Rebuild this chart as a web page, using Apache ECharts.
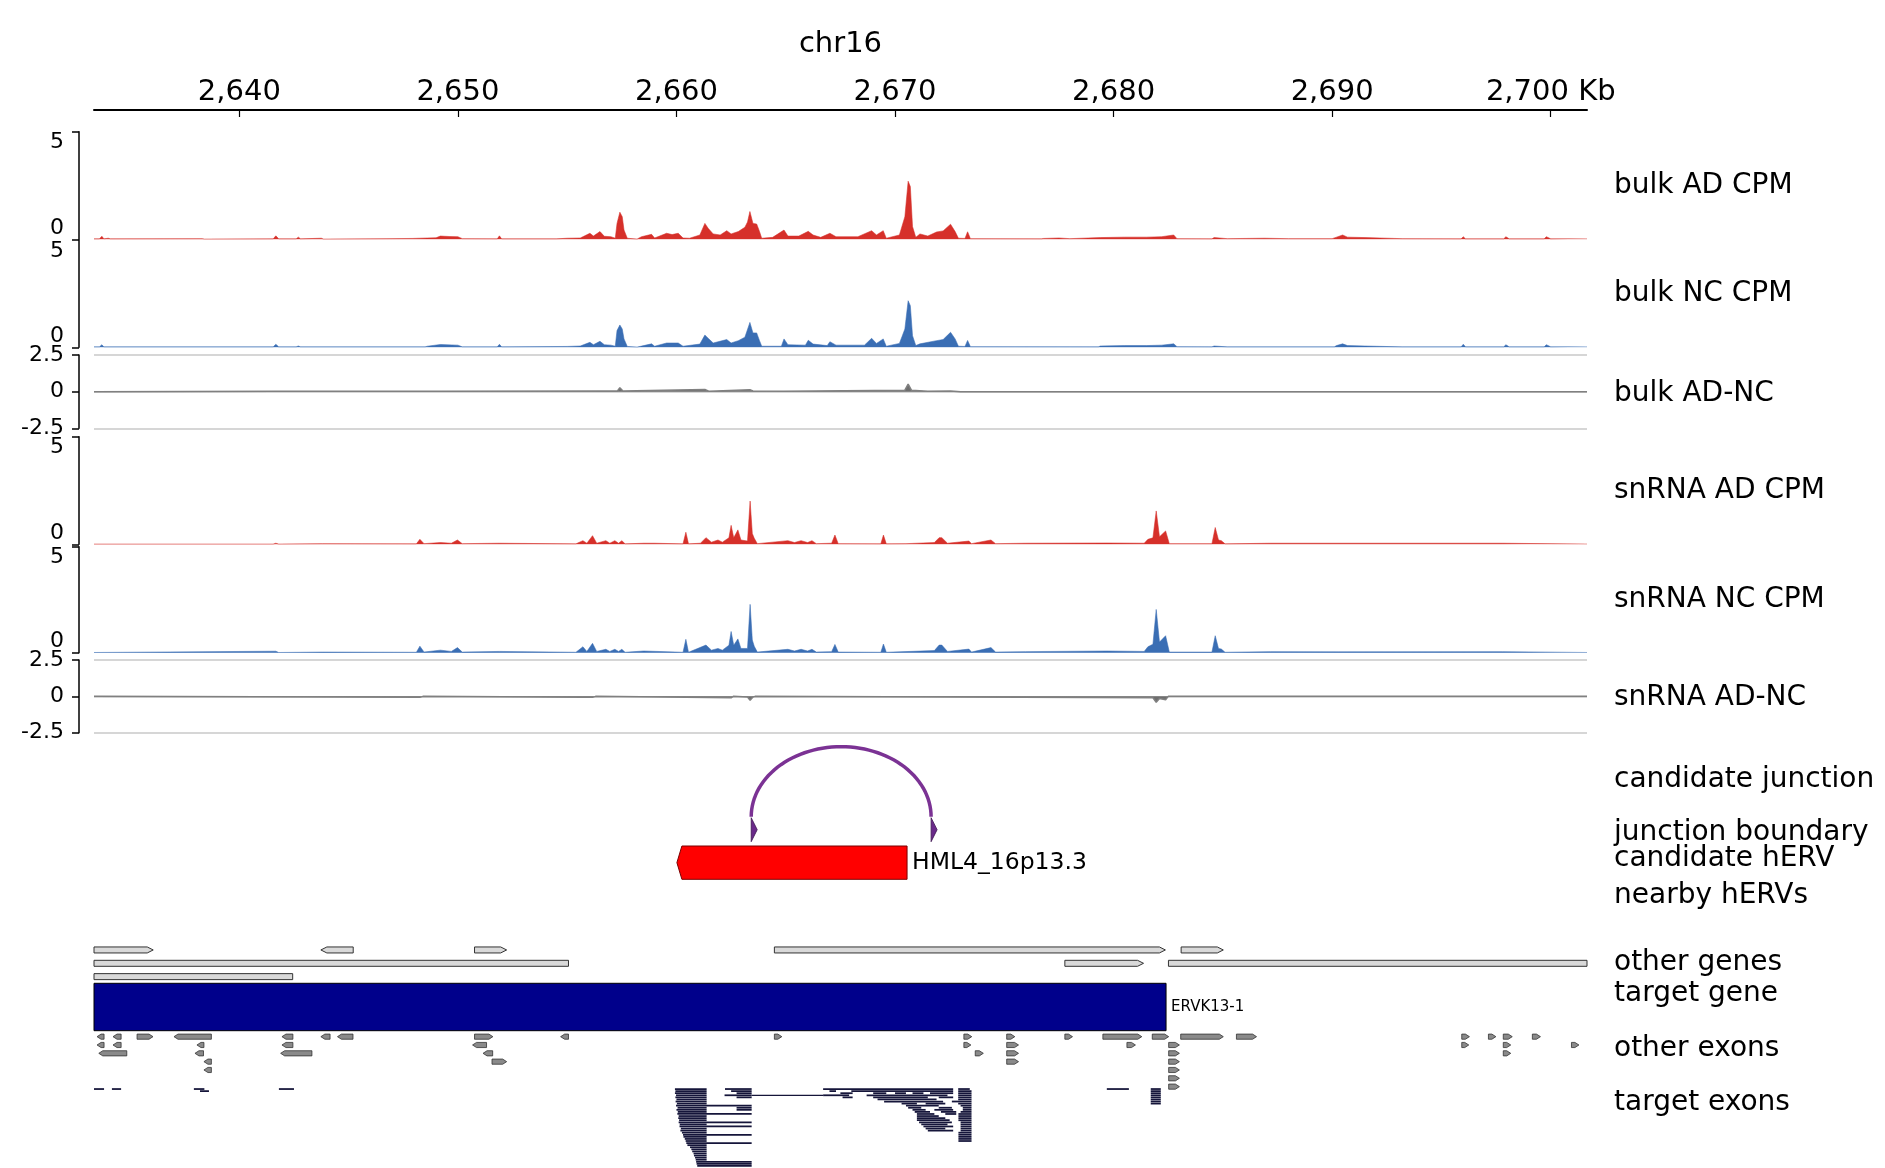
<!DOCTYPE html>
<html><head><meta charset="utf-8">
<script src="https://cdn.jsdelivr.net/npm/echarts@6/dist/echarts.min.js"></script>
<style>html,body{margin:0;padding:0;background:#fff}#c{width:1885px;height:1168px}</style>
</head><body><div id="c"></div>
<script>
// ---- view range (kb) ----
const XMIN = 2633.35, XMAX = 2701.66;
const tickValues = [2640, 2650, 2660, 2670, 2680, 2690, 2700];
const trackLabels = ['bulk AD CPM','bulk NC CPM','bulk AD-NC','snRNA AD CPM','snRNA NC CPM','snRNA AD-NC',
  'candidate junction','junction boundary','candidate hERV','nearby hERVs','other genes','target gene','other exons','target exons'];

// ---- coverage tracks [kb, value] ----
const bulkAD = [[2633.35,0.02],[2633.6,0.02],[2633.71,0.14],[2633.8,0.02],[2634.0,0.05],[2634.1,0.02],[2638.3,0.03],[2638.4,0.01],[2641.55,0.02],[2641.67,0.16],[2641.8,0.02],[2642.6,0.02],[2642.7,0.1],[2642.8,0.02],[2643.75,0.05],[2643.85,0.01],[2646.8,0.03],[2647.9,0.04],[2648.6,0.06],[2649.0,0.07],[2649.2,0.15],[2649.6,0.13],[2650.0,0.12],[2650.2,0.03],[2651.8,0.02],[2651.9,0.16],[2652.0,0.02],[2654.5,0.02],[2655.0,0.05],[2655.6,0.06],[2656.04,0.28],[2656.2,0.15],[2656.5,0.36],[2656.7,0.14],[2657.0,0.12],[2657.2,0.05],[2657.28,0.74],[2657.41,1.26],[2657.52,1.05],[2657.6,0.43],[2657.75,0.05],[2658.2,0.01],[2658.4,0.12],[2658.86,0.23],[2659.0,0.06],[2659.55,0.28],[2659.8,0.22],[2660.08,0.28],[2660.3,0.06],[2660.6,0.05],[2661.07,0.2],[2661.3,0.74],[2661.45,0.51],[2661.68,0.25],[2662.0,0.2],[2662.3,0.4],[2662.5,0.25],[2662.83,0.36],[2663.13,0.56],[2663.25,0.8],[2663.36,1.29],[2663.5,0.74],[2663.67,0.71],[2663.8,0.36],[2663.9,0.05],[2664.4,0.09],[2664.92,0.43],[2665.1,0.15],[2665.6,0.15],[2666.03,0.37],[2666.25,0.2],[2666.6,0.09],[2667.02,0.28],[2667.3,0.12],[2668.3,0.12],[2668.93,0.4],[2669.15,0.2],[2669.46,0.4],[2669.6,0.05],[2670.2,0.2],[2670.45,1.05],[2670.6,2.7],[2670.7,2.45],[2670.8,0.59],[2670.95,0.09],[2671.14,0.25],[2671.5,0.15],[2671.9,0.34],[2672.2,0.39],[2672.54,0.7],[2672.75,0.36],[2672.9,0.05],[2673.2,0.04],[2673.32,0.35],[2673.45,0.03],[2676.7,0.02],[2676.8,0.04],[2677.5,0.06],[2678.0,0.03],[2679.4,0.08],[2680.5,0.1],[2681.5,0.1],[2682.2,0.12],[2682.75,0.2],[2682.9,0.03],[2684.5,0.02],[2684.6,0.08],[2685.2,0.03],[2686.9,0.05],[2688.0,0.03],[2690.0,0.03],[2690.2,0.1],[2690.48,0.2],[2690.7,0.1],[2691.5,0.08],[2693.2,0.03],[2695.9,0.02],[2696.0,0.12],[2696.1,0.02],[2697.85,0.02],[2697.95,0.12],[2698.1,0.02],[2699.7,0.02],[2699.8,0.12],[2700.0,0.02],[2701.66,0.02]];
const bulkNC = [[2633.35,0.02],[2633.6,0.02],[2633.71,0.12],[2633.8,0.02],[2641.55,0.02],[2641.67,0.14],[2641.8,0.02],[2642.6,0.02],[2642.7,0.06],[2642.8,0.02],[2648.5,0.02],[2648.6,0.05],[2649.2,0.13],[2650.0,0.1],[2650.2,0.02],[2651.8,0.02],[2651.9,0.14],[2652.0,0.02],[2655.0,0.04],[2655.6,0.06],[2656.04,0.23],[2656.2,0.12],[2656.5,0.28],[2656.7,0.12],[2657.0,0.1],[2657.2,0.05],[2657.28,0.78],[2657.41,1.04],[2657.52,0.85],[2657.6,0.39],[2657.75,0.04],[2658.2,0.01],[2658.86,0.16],[2659.0,0.05],[2659.55,0.2],[2660.08,0.2],[2660.3,0.05],[2661.07,0.15],[2661.3,0.57],[2661.45,0.42],[2661.68,0.2],[2662.3,0.36],[2662.5,0.2],[2662.83,0.31],[2663.13,0.47],[2663.36,1.16],[2663.5,0.67],[2663.67,0.67],[2663.8,0.31],[2663.9,0.05],[2664.8,0.05],[2664.92,0.39],[2665.1,0.12],[2665.9,0.1],[2666.03,0.33],[2666.25,0.15],[2666.9,0.08],[2667.02,0.26],[2667.3,0.1],[2668.6,0.1],[2668.93,0.42],[2669.15,0.18],[2669.46,0.39],[2669.6,0.05],[2670.2,0.18],[2670.45,0.85],[2670.6,2.17],[2670.7,1.94],[2670.8,0.54],[2670.95,0.08],[2671.14,0.16],[2671.9,0.31],[2672.2,0.36],[2672.54,0.7],[2672.75,0.39],[2672.9,0.05],[2673.2,0.04],[2673.32,0.32],[2673.45,0.03],[2679.3,0.02],[2679.4,0.06],[2680.5,0.08],[2681.5,0.08],[2682.2,0.1],[2682.75,0.16],[2682.9,0.03],[2684.5,0.02],[2684.6,0.06],[2685.2,0.02],[2690.1,0.02],[2690.2,0.08],[2690.48,0.16],[2690.7,0.08],[2691.5,0.06],[2693.2,0.02],[2695.9,0.02],[2696.0,0.14],[2696.1,0.02],[2697.85,0.02],[2697.95,0.12],[2698.1,0.02],[2699.7,0.02],[2699.8,0.12],[2700.0,0.02],[2701.66,0.02]];
const bulkDiff = [[2633.35,0],[2641.67,0.02],[2649.2,0.02],[2656.5,0.05],[2657.3,0.05],[2657.41,0.27],[2657.55,0.05],[2661.3,0.15],[2661.5,0.02],[2663.36,0.13],[2663.5,0.05],[2664.92,0.03],[2670.45,0.1],[2670.6,0.52],[2670.75,0.1],[2671.5,0.03],[2672.54,0.04],[2673.0,0],[2701.66,0]];
const snAD = [[2633.35,0.01],[2641.55,0.01],[2641.67,0.05],[2641.8,0.01],[2643.8,0.03],[2648.1,0.02],[2648.26,0.23],[2648.45,0.03],[2649.2,0.08],[2649.7,0.05],[2649.98,0.2],[2650.2,0.03],[2651.9,0.05],[2655.4,0.02],[2655.72,0.17],[2655.9,0.05],[2656.16,0.4],[2656.35,0.05],[2656.77,0.17],[2656.95,0.05],[2657.18,0.17],[2657.35,0.05],[2657.5,0.17],[2657.65,0.02],[2658.5,0.05],[2659.0,0.05],[2660.3,0.02],[2660.43,0.56],[2660.55,0.02],[2661.1,0.05],[2661.35,0.31],[2661.6,0.1],[2661.9,0.2],[2662.1,0.1],[2662.4,0.3],[2662.5,0.88],[2662.62,0.3],[2662.81,0.67],[2662.95,0.2],[2663.25,0.15],[2663.37,2.01],[2663.47,0.5],[2663.56,0.28],[2663.7,0.03],[2665.1,0.17],[2665.4,0.08],[2665.7,0.17],[2666.0,0.08],[2666.2,0.17],[2666.4,0.03],[2667.1,0.05],[2667.25,0.43],[2667.4,0.03],[2669.35,0.02],[2669.47,0.43],[2669.6,0.02],[2670.5,0.03],[2671.8,0.08],[2672.02,0.31],[2672.14,0.31],[2672.4,0.05],[2673.38,0.15],[2673.5,0.03],[2674.39,0.2],[2674.6,0.03],[2675.97,0.05],[2679.7,0.06],[2681.4,0.05],[2681.57,0.23],[2681.8,0.3],[2681.95,1.55],[2682.1,0.35],[2682.38,0.62],[2682.55,0.03],[2684.5,0.03],[2684.65,0.78],[2684.8,0.2],[2684.93,0.17],[2685.1,0.02],[2687.17,0.05],[2697.8,0.05],[2701.66,0.01]];
const snNC = [[2633.35,0.01],[2641.67,0.07],[2641.8,0.01],[2643.8,0.03],[2648.1,0.02],[2648.26,0.31],[2648.45,0.03],[2649.2,0.12],[2649.7,0.06],[2649.98,0.24],[2650.2,0.03],[2651.9,0.06],[2655.4,0.02],[2655.72,0.28],[2655.9,0.06],[2656.16,0.44],[2656.35,0.06],[2656.77,0.16],[2656.95,0.06],[2657.18,0.16],[2657.35,0.06],[2657.5,0.16],[2657.65,0.02],[2658.5,0.08],[2660.3,0.02],[2660.43,0.63],[2660.55,0.02],[2661.35,0.36],[2661.6,0.12],[2661.9,0.2],[2662.1,0.12],[2662.4,0.35],[2662.5,1.0],[2662.62,0.35],[2662.81,0.65],[2662.95,0.2],[2663.25,0.2],[2663.37,2.28],[2663.47,0.6],[2663.56,0.3],[2663.7,0.03],[2665.1,0.16],[2665.4,0.08],[2665.7,0.16],[2666.0,0.08],[2666.2,0.16],[2666.4,0.03],[2667.1,0.05],[2667.25,0.39],[2667.4,0.03],[2669.35,0.02],[2669.47,0.41],[2669.6,0.02],[2671.8,0.1],[2672.02,0.36],[2672.14,0.36],[2672.4,0.06],[2673.38,0.17],[2673.5,0.03],[2674.39,0.24],[2674.6,0.03],[2675.97,0.05],[2679.7,0.08],[2681.4,0.06],[2681.57,0.28],[2681.8,0.4],[2681.95,2.04],[2682.1,0.5],[2682.38,0.8],[2682.55,0.03],[2684.5,0.03],[2684.65,0.8],[2684.8,0.2],[2684.93,0.17],[2685.1,0.02],[2687.17,0.05],[2690.3,0.04],[2697.8,0.05],[2701.66,0.01]];
const snDiff = [[2633.35,0],[2648.26,-0.07],[2648.4,0],[2655.72,-0.07],[2656.16,-0.07],[2656.3,0],[2662.5,-0.1],[2662.6,0],[2663.25,-0.05],[2663.37,-0.27],[2663.5,-0.05],[2663.6,0],[2681.8,-0.1],[2681.95,-0.41],[2682.1,-0.15],[2682.38,-0.23],[2682.5,0],[2701.66,0]];

// ---- annotations: [start kb, end kb, row, strand(1 '+', -1 '-', 0 none)] ----
const junctionLinks = [[2663.42, 2671.65]];
const junctionBoundaries = [[2663.42], [2671.65]];
const candidateHERV = [[2660.02, 2670.55, 0, -1]];
const candidateHERVName = 'HML4_16p13.3';
const otherGenes = [
  [2633.35,2636.06,0,1],[2643.73,2645.21,0,-1],[2650.76,2652.23,0,1],[2664.48,2682.37,0,1],[2683.09,2685.02,0,1],
  [2633.35,2655.06,1,0],[2677.77,2681.37,1,1],[2682.51,2701.66,1,0],
  [2633.35,2642.44,2,0]];
const targetGene = [[2633.35, 2682.40, 0, 0]];
const targetGeneName = 'ERVK13-1';
const otherExons = [
  [2633.49,2633.81,0,-1],[2634.22,2634.59,0,-1],[2635.32,2636.05,0,1],[2637.01,2638.72,0,-1],[2641.95,2642.45,0,-1],[2643.73,2644.15,0,-1],[2644.49,2645.2,0,-1],[2650.76,2651.6,0,1],[2654.7,2655.06,0,-1],[2664.48,2664.82,0,1],[2673.15,2673.51,0,1],[2675.11,2675.48,0,1],[2677.77,2678.12,0,1],[2679.51,2681.29,0,1],[2681.77,2682.52,0,1],[2683.07,2685.02,0,1],[2685.62,2686.54,0,1],[2695.93,2696.28,0,1],[2697.15,2697.49,0,1],[2697.83,2698.24,0,1],[2699.16,2699.53,0,1],
  [2633.49,2633.81,1,-1],[2634.22,2634.59,1,-1],[2638.06,2638.38,1,-1],[2641.95,2642.45,1,-1],[2650.67,2651.31,1,-1],[2673.15,2673.47,1,1],[2675.11,2675.65,1,1],[2680.61,2681.0,1,1],[2682.52,2683.01,1,1],[2695.93,2696.25,1,1],[2697.83,2698.17,1,1],[2700.95,2701.29,1,1],
  [2633.57,2634.85,2,-1],[2637.97,2638.36,2,-1],[2641.89,2643.32,2,-1],[2651.15,2651.59,2,-1],[2673.67,2674.04,2,1],[2675.11,2675.65,2,1],[2682.52,2683.01,2,1],[2697.83,2698.17,2,1],
  [2638.38,2638.72,3,-1],[2651.56,2652.23,3,1],[2675.11,2675.65,3,1],[2682.52,2683.01,3,1],
  [2638.38,2638.72,4,-1],[2682.52,2683.01,4,1],
  [2682.52,2683.01,5,1],
  [2682.52,2683.01,6,1]];
// target exons: [start, end, row]
const targetExons = [
  [2633.35,2633.81,0],[2634.17,2634.59,0],[2637.92,2638.4,0],[2641.81,2642.5,0],[2679.69,2680.7,0],[2681.7,2682.16,0],
  [2638.2,2638.61,1],[2681.7,2682.16,1],[2681.7,2682.16,2],[2681.7,2682.16,3],[2681.7,2682.16,4],[2681.7,2682.16,5],[2681.7,2682.16,6],[2681.7,2682.16,7],
  [2659.93,2661.38,0],[2662.22,2663.44,0],[2666.71,2672.66,0],[2672.89,2673.42,0],
  [2659.95,2661.38,1],[2662.5,2663.44,1],[2667.0,2667.3,1],[2668.0,2672.66,1],[2672.89,2673.5,1],
  [2659.93,2661.38,2],[2662.75,2663.44,2],[2667.5,2668.06,2],[2669.0,2669.6,2],[2670.0,2670.5,2],[2670.8,2671.3,2],[2671.6,2672.66,2],[2672.89,2673.5,2],
  [2659.98,2661.38,3],[2662.2,2663.44,3],[2666.71,2667.9,3],[2668.7,2672.4,3],[2672.89,2673.5,3],
  [2659.95,2661.38,4],[2662.75,2663.44,4],[2667.6,2668.06,4],[2669.0,2671.5,4],[2672.0,2672.66,4],[2672.89,2673.5,4],
  [2660.0,2661.38,5],[2669.2,2671.9,5],[2672.89,2673.5,5],
  [2659.96,2661.38,6],[2669.5,2672.2,6],[2672.6,2673.5,6],
  [2660.02,2661.38,7],[2670.3,2671.0,7],[2671.4,2672.3,7],[2672.89,2673.5,7],
  [2659.98,2663.44,8],[2670.5,2672.0,8],[2673.0,2673.5,8],
  [2660.05,2661.38,9],[2662.75,2663.44,9],[2670.6,2671.2,9],[2672.0,2672.6,9],[2673.1,2673.5,9],
  [2660.0,2661.38,10],[2662.75,2663.44,10],[2670.8,2671.4,10],[2671.8,2672.66,10],[2673.1,2673.5,10],
  [2660.06,2661.38,11],[2670.9,2671.6,11],[2672.1,2672.8,11],[2673.0,2673.5,11],
  [2660.04,2663.44,12],[2671.0,2671.8,12],[2672.3,2672.8,12],[2672.9,2673.5,12],
  [2660.1,2661.38,13],[2671.0,2672.0,13],[2672.9,2673.5,13],
  [2660.08,2661.38,14],[2671.0,2672.3,14],[2672.9,2673.5,14],
  [2660.12,2661.38,15],[2671.0,2672.5,15],[2672.9,2673.5,15],
  [2660.1,2663.44,16],[2671.1,2672.6,16],[2673.0,2673.5,16],
  [2660.15,2661.38,17],[2671.2,2672.4,17],[2673.0,2673.5,17],
  [2660.14,2663.44,18],[2671.3,2672.66,18],[2673.0,2673.5,18],
  [2660.2,2661.38,19],[2671.4,2672.3,19],[2673.0,2673.5,19],
  [2660.18,2661.38,20],[2671.5,2672.66,20],[2673.0,2673.5,20],
  [2660.25,2661.38,21],[2672.9,2673.5,21],
  [2660.3,2663.44,22],[2672.9,2673.5,22],
  [2660.32,2661.38,23],[2672.9,2673.5,23],
  [2660.38,2661.38,24],[2672.9,2673.5,24],
  [2660.42,2661.38,25],[2672.9,2673.5,25],
  [2660.45,2663.44,26],
  [2660.5,2661.38,27],[2660.62,2661.38,28],[2660.68,2661.38,29],[2660.72,2661.38,30],[2660.78,2661.38,31],
  [2660.8,2661.38,32],[2660.85,2661.38,33],[2660.88,2661.38,34],[2660.9,2663.44,35],[2660.92,2663.44,36],[2660.95,2663.44,37]];
const targetIntrons = [[2663.44, 2666.71, 3]];

// ---- layout ----
const GL = 94, GW = 1493;
const grids = [
  {top:131.7,height:107.6},{top:240,height:107.3},{top:355,height:73.3},
  {top:436.7,height:107.6},{top:546.7,height:106},{top:660,height:72.7},
  {top:746.7,height:70},{top:817.7,height:24},{top:846,height:33.3},
  {top:943.3,height:40},{top:983.3,height:47.4},{top:1032.5,height:58.3},{top:1088,height:79}];
const labelY = [185.5,294,394,491,599.5,697.5,779.5,832.5,859,895.5,962.5,994,1049,1102.5];
const FONT = 'DejaVu Sans';
const RED = '#d6302a', BLUE = '#3a6eb4', GRAY = '#6e6e6e';

const xAxes = grids.map((g,i)=>({
  gridIndex:i, type:'value', min:XMIN, max:XMAX, show:i===0,
  position:'top', offset:21.7,
  axisLine:{show:true,onZero:false,lineStyle:{color:'#000',width:2}},
  axisTick:{show:true,inside:true,length:7,lineStyle:{color:'#000',width:1.2},customValues:tickValues},
  axisLabel:{show:true,customValues:tickValues,fontSize:29,fontFamily:FONT,color:'#000',margin:3,
    formatter:v=>v.toLocaleString('en-US')+(v===2700?' Kb':'')},
  splitLine:{show:false},
  name:i===0?'chr16':'', nameLocation:'middle', nameGap:51,
  nameTextStyle:{fontSize:29,fontFamily:FONT,color:'#000'}
}));

function sigY(i,min,max,interval,isDiff){
  return {gridIndex:i,type:'value',min:min,max:max,interval:interval,offset:15,
    axisLine:{show:true,onZero:false,lineStyle:{color:'#000',width:1.5}},
    axisTick:{show:true,length:7,lineStyle:{color:'#000',width:1.5}},
    axisLabel:{fontSize:22,fontFamily:FONT,color:'#000',margin:15,
      verticalAlignMinLabel:isDiff?'middle':'bottom',verticalAlignMaxLabel:isDiff?'middle':'top'},
    splitLine:{show:isDiff,lineStyle:{color:'#c8c8c8',width:1.5}}};
}
const yAxes = [
  sigY(0,0,5,5,false),sigY(1,0,5,5,false),sigY(2,-2.5,2.5,2.5,true),
  sigY(3,0,5,5,false),sigY(4,0,5,5,false),sigY(5,-2.5,2.5,2.5,true),
  {gridIndex:6,type:'value',min:0,max:1,show:false},
  {gridIndex:7,type:'value',min:0,max:1,show:false},
  {gridIndex:8,type:'value',min:-0.5,max:0.5,show:false},
  {gridIndex:9,type:'value',min:-0.5,max:2.5,inverse:true,show:false},
  {gridIndex:10,type:'value',min:-0.5,max:0.5,show:false},
  {gridIndex:11,type:'value',min:-0.5,max:6.5,inverse:true,show:false},
  {gridIndex:12,type:'value',min:-0.5,max:37.5,inverse:true,show:false}];

function areaSeries(i,data,color,isDiff){
  return {type:'line',xAxisIndex:i,yAxisIndex:i,data:data,showSymbol:false,symbol:'none',
    sampling:null,clip:true,
    lineStyle:{color:isDiff?'#808080':color,width:isDiff?1.5:1,opacity:isDiff?1:0.55},
    areaStyle:{color:color,opacity:1,origin:0},z:3};
}

function arrowShape(api,opt){
  const s=api.value(0),e=api.value(1),row=api.value(2),strand=api.value(3);
  const p1=api.coord([s,row]),p2=api.coord([e,row]);
  const rowH=Math.abs(api.size([0,1])[1]);
  const h=rowH*opt.frac, ym=p1[1], yt=ym-h/2, yb=ym+h/2;
  const x1=p1[0],x2=p2[0],a=Math.min(opt.arrow,(x2-x1)*0.6);
  let pts;
  if(strand>0) pts=[[x1,yt],[x2-a,yt],[x2,ym],[x2-a,yb],[x1,yb]];
  else if(strand<0) pts=[[x1,ym],[x1+a,yt],[x2,yt],[x2,yb],[x1+a,yb]];
  else pts=[[x1,yt],[x2,yt],[x2,yb],[x1,yb]];
  return {poly:{type:'polygon',shape:{points:pts},style:{fill:opt.fill,stroke:opt.stroke,lineWidth:opt.lw}},x2:x2,ym:ym};
}

const series = [
  areaSeries(0,bulkAD,RED,false),areaSeries(1,bulkNC,BLUE,false),areaSeries(2,bulkDiff,GRAY,true),
  areaSeries(3,snAD,RED,false),areaSeries(4,snNC,BLUE,false),areaSeries(5,snDiff,GRAY,true),
  {type:'custom',xAxisIndex:6,yAxisIndex:6,data:junctionLinks,encode:{x:[0,1]},
    renderItem:(p,api)=>{
      const a=api.coord([api.value(0),0]),b=api.coord([api.value(1),0]),t=api.coord([api.value(0),1]);
      const cx=(a[0]+b[0])/2,rx=(b[0]-a[0])/2,ry=a[1]-t[1],pts=[];
      for(let k=0;k<=60;k++){const th=Math.PI*k/60;pts.push([cx-rx*Math.cos(th),a[1]-ry*Math.sin(th)]);}
      return {type:'polyline',shape:{points:pts},style:{stroke:'#7b3294',lineWidth:3.5,fill:null}};
    }},
  {type:'custom',xAxisIndex:7,yAxisIndex:7,data:junctionBoundaries,encode:{x:0},
    renderItem:(p,api)=>{
      const b=api.coord([api.value(0),0]),t=api.coord([api.value(0),1]);
      return {type:'polygon',shape:{points:[[b[0],t[1]],[b[0]+6,(t[1]+b[1])/2],[b[0],b[1]]]},
        style:{fill:'#6a2a8a',stroke:'#3d1550',lineWidth:0.8}};
    }},
  {type:'custom',xAxisIndex:8,yAxisIndex:8,data:candidateHERV,encode:{x:[0,1],y:2},
    renderItem:(p,api)=>{
      const r=arrowShape(api,{frac:1,arrow:5,fill:'#ff0000',stroke:'#7a0000',lw:1});
      return {type:'group',children:[r.poly,{type:'text',style:{text:candidateHERVName,x:r.x2+5,y:r.ym,
        verticalAlign:'middle',align:'left',fontSize:23.5,fontFamily:FONT,fill:'#000'}}]};
    }},
  {type:'custom',xAxisIndex:9,yAxisIndex:9,data:otherGenes,encode:{x:[0,1],y:2},
    renderItem:(p,api)=>arrowShape(api,{frac:0.45,arrow:6,fill:'#d9d9d9',stroke:'#333',lw:1}).poly},
  {type:'custom',xAxisIndex:10,yAxisIndex:10,data:targetGene,encode:{x:[0,1],y:2},
    renderItem:(p,api)=>{
      const r=arrowShape(api,{frac:1,arrow:6,fill:'#00008b',stroke:'#000',lw:1});
      return {type:'group',children:[r.poly,{type:'text',style:{text:targetGeneName,x:r.x2+5,y:r.ym,
        verticalAlign:'middle',align:'left',fontSize:15,fontFamily:FONT,fill:'#000'}}]};
    }},
  {type:'custom',xAxisIndex:11,yAxisIndex:11,data:otherExons,encode:{x:[0,1],y:2},
    renderItem:(p,api)=>arrowShape(api,{frac:0.62,arrow:4,fill:'#8a8a8a',stroke:'#333',lw:0.8}).poly},
  {type:'custom',xAxisIndex:12,yAxisIndex:12,data:targetIntrons,encode:{x:[0,1],y:2},
    renderItem:(p,api)=>{
      const a=api.coord([api.value(0),api.value(2)]),b=api.coord([api.value(1),api.value(2)]);
      return {type:'line',shape:{x1:a[0],y1:a[1],x2:b[0],y2:b[1]},style:{stroke:'#15153a',lineWidth:1.2}};
    }},
  {type:'custom',xAxisIndex:12,yAxisIndex:12,data:targetExons,encode:{x:[0,1],y:2},
    renderItem:(p,api)=>{
      const a=api.coord([api.value(0),api.value(2)]),b=api.coord([api.value(1),api.value(2)]);
      const h=Math.abs(api.size([0,1])[1])*0.85;
      return {type:'rect',shape:{x:a[0],y:a[1]-h/2,width:Math.max(b[0]-a[0],1),height:h},style:{fill:'#15153a'}};
    }}
];

const graphic = trackLabels.map((t,i)=>({type:'text',x:1614,y:labelY[i],
  style:{text:t,fontSize:28,fontFamily:FONT,fill:'#000',verticalAlign:'middle',align:'left'}}));

const chart = echarts.init(document.getElementById('c'),null,{renderer:'canvas'});
chart.setOption({
  animation:false, backgroundColor:'#fff',
  textStyle:{fontFamily:FONT},
  grid:grids.map(g=>({left:GL,width:GW,top:g.top,height:g.height,containLabel:false,outerBoundsMode:'none'})),
  xAxis:xAxes, yAxis:yAxes, series:series, graphic:graphic
});
</script></body></html>
